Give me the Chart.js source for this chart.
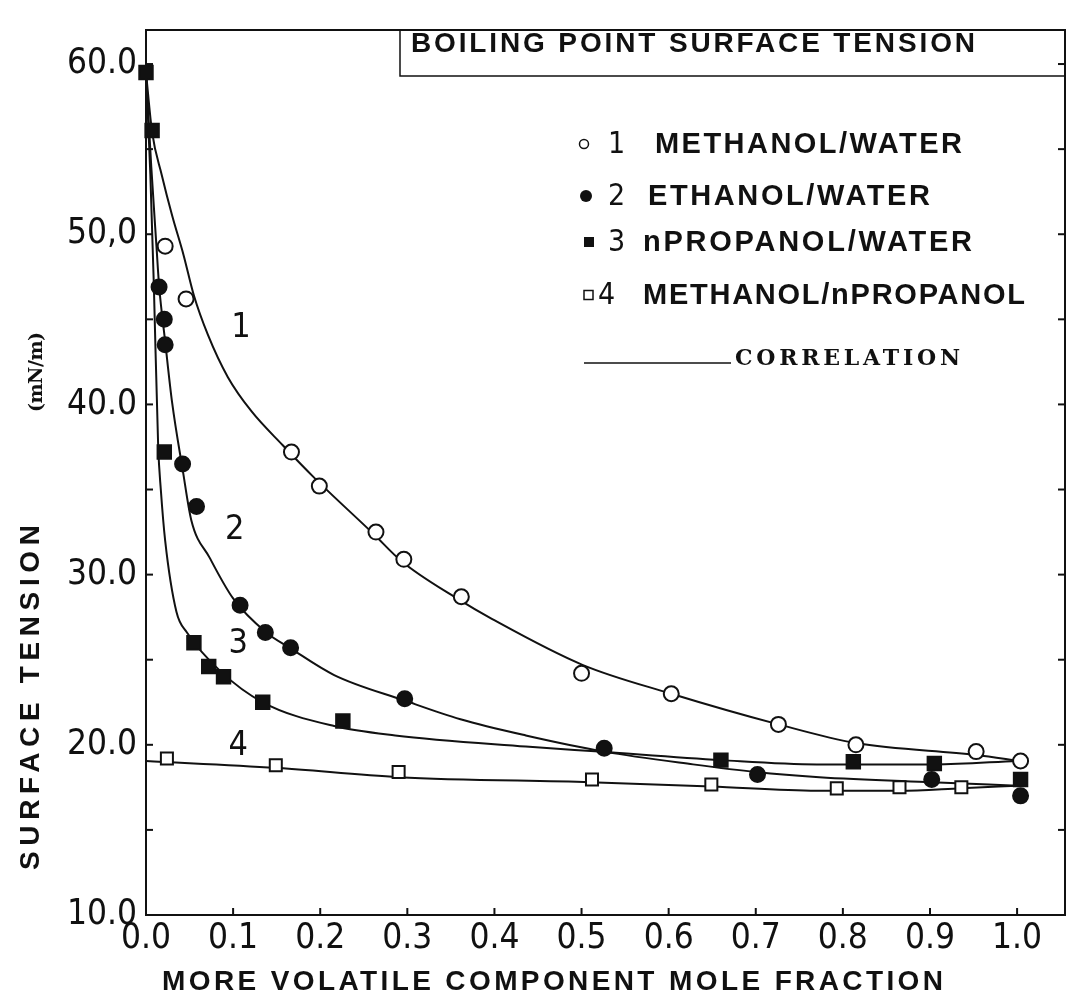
<!DOCTYPE html>
<html>
<head>
<meta charset="utf-8">
<title>Boiling point surface tension</title>
<script src="https://cdn.jsdelivr.net/npm/chart.js@4.4.1/dist/chart.umd.min.js"></script>
<style>
    html, body { margin: 0; padding: 0; background: #fff; }
    #wrap { width: 1081px; height: 1001px; }
</style>
</head>
<body>
<div id="wrap"><canvas id="surfaceChart" width="1081" height="1001"></canvas></div>
<script>
//测量点 x = mole fraction, y = mN/m
const methanolWaterX = [0.022, 0.046, 0.167, 0.199, 0.264, 0.296, 0.362, 0.500, 0.603, 0.726, 0.815, 0.953, 1.004];
const methanolWaterY = [49.3, 46.2, 37.2, 35.2, 32.5, 30.9, 28.7, 24.2, 23.0, 21.2, 20.0, 19.6, 19.05];

const ethanolWaterX = [0.015, 0.021, 0.022, 0.042, 0.058, 0.108, 0.137, 0.166, 0.297, 0.526, 0.702, 0.902, 1.004];
const ethanolWaterY = [46.9, 45.0, 43.5, 36.5, 34.0, 28.2, 26.6, 25.7, 22.7, 19.8, 18.25, 17.96, 17.0];

const propanolWaterX = [0.0, 0.007, 0.021, 0.055, 0.072, 0.089, 0.134, 0.226, 0.660, 0.812, 0.905, 1.004];
const propanolWaterY = [59.5, 56.1, 37.2, 26.0, 24.6, 24.0, 22.5, 21.4, 19.1, 19.0, 18.9, 17.96];

const methanolPropanolX = [0.024, 0.149, 0.290, 0.512, 0.649, 0.793, 0.865, 0.936];
const methanolPropanolY = [19.2, 18.8, 18.4, 17.96, 17.67, 17.44, 17.5, 17.5];

//关联曲线
const corr1X = [0, 0.007, 0.018, 0.030, 0.043, 0.055, 0.071, 0.094, 0.121, 0.157, 0.193, 0.261, 0.293, 0.357, 0.397, 0.501, 0.603, 0.726, 0.815, 0.953, 1.004];
const corr1Y = [59.5, 56.0, 53.5, 51.1, 48.8, 46.4, 44.1, 41.6, 39.6, 37.6, 35.7, 32.4, 30.8, 28.6, 27.4, 24.7, 23.0, 21.2, 20.1, 19.4, 19.05];

const corr2X = [0, 0.006, 0.012, 0.015, 0.022, 0.030, 0.042, 0.052, 0.073, 0.100, 0.138, 0.165, 0.216, 0.297, 0.361, 0.436, 0.526, 0.628, 0.700, 0.773, 0.902, 1.0];
const corr2Y = [59.5, 54.0, 49.3, 47.0, 43.7, 40.1, 36.2, 33.2, 31.0, 28.6, 26.6, 25.7, 24.1, 22.6, 21.5, 20.55, 19.6, 18.85, 18.4, 18.1, 17.8, 17.6];

const corr3X = [0, 0.005, 0.009, 0.014, 0.017, 0.022, 0.035, 0.047, 0.086, 0.134, 0.216, 0.286, 0.436, 0.520, 0.660, 0.770, 0.812, 0.905, 1.0];
const corr3Y = [59.5, 53.5, 47.0, 37.5, 35.0, 32.0, 27.8, 26.6, 24.3, 22.5, 21.1, 20.55, 19.9, 19.6, 19.1, 18.85, 18.85, 18.85, 19.05];

const corr4X = [0, 0.149, 0.290, 0.510, 0.649, 0.770, 0.865, 0.936, 1.0];
const corr4Y = [19.05, 18.65, 18.1, 17.8, 17.55, 17.3, 17.3, 17.45, 17.6];

//刻度
const xTickValues = [0, 0.1, 0.2, 0.3, 0.4, 0.5, 0.6, 0.7, 0.8, 0.9, 1.0];
const xTickLabels = ['0.0', '0.1', '0.2', '0.3', '0.4', '0.5', '0.6', '0.7', '0.8', '0.9', '1.0'];
const yTickValues = [10, 15, 20, 25, 30, 35, 40, 45, 50, 55, 60];
const yLabelValues = [10, 20, 30, 40, 50, 60];
const yTickLabels = ['10.0', '20.0', '30.0', '40.0', '50,0', '60.0'];

//文字
const chartTitle = 'BOILING POINT SURFACE TENSION';
const legendNumbers = ['1', '2', '3', '4'];
const legendNames = ['METHANOL/WATER', 'ETHANOL/WATER', 'nPROPANOL/WATER', 'METHANOL/nPROPANOL'];
const correlationText = 'CORRELATION';
const curveNumbers = ['1', '2', '3', '4'];
const curveLabelX = [0.109, 0.102, 0.106, 0.106];
const curveLabelY = [44.5, 32.6, 25.9, 19.9];
const xAxisTitle = 'MORE VOLATILE COMPONENT MOLE FRACTION';
const yAxisTitle = 'SURFACE TENSION';
const yAxisUnit = '(mN/m)';

const thinFont = "'Liberation Sans Narrow', 'DejaVu Sans Condensed', 'DejaVu Sans', sans-serif";
const boldFont = "'Liberation Sans', Arial, sans-serif";
const serifFont = "'DejaVu Serif', 'Liberation Serif', serif";

const toXY = (xs, ys) => xs.map((x, i) => ({ x: x, y: ys[i] }));

//把文字拉到指定宽度
const fitText = (ctx, text, x, y, width) => {
    ctx.letterSpacing = '0px';
    const w = ctx.measureText(text).width;
    const gap = text.length > 1 ? (width - w) / (text.length - 1) : 0;
    ctx.letterSpacing = gap + 'px';
    ctx.fillText(text, x, y);
    ctx.letterSpacing = '0px';
};

const line = (ctx, x1, y1, x2, y2) => {
    ctx.beginPath();
    ctx.moveTo(x1, y1);
    ctx.lineTo(x2, y2);
    ctx.stroke();
};

const decorPlugin = {
    id: 'decor',
    afterDraw: (chart) => {
        const ctx = chart.ctx;
        const area = chart.chartArea;
        const xs = chart.scales.x;
        const ys = chart.scales.y;
        ctx.save();
        ctx.strokeStyle = '#111';
        ctx.fillStyle = '#111';

        //边框
        ctx.lineWidth = 2;
        ctx.strokeRect(area.left, area.top, area.right - area.left, area.bottom - area.top);

        //内侧刻度
        xs.ticks.forEach(t => {
            const px = xs.getPixelForValue(t.value);
            line(ctx, px, area.bottom, px, area.bottom - 7);
        });
        ys.ticks.forEach(t => {
            const py = ys.getPixelForValue(t.value);
            line(ctx, area.left, py, area.left + 7, py);
            line(ctx, area.right, py, area.right - 7, py);
        });

        //标题框
        ctx.lineWidth = 1.5;
        ctx.beginPath();
        ctx.moveTo(400, area.top);
        ctx.lineTo(400, 76);
        ctx.lineTo(area.right, 76);
        ctx.stroke();
        ctx.textBaseline = 'middle';
        ctx.textAlign = 'left';
        ctx.font = "bold 28px " + boldFont;
        fitText(ctx, chartTitle, 411, 44, 564);

        //图例
        const rowY = [144, 196, 242, 295];
        const numX = [608, 608, 608, 598];
        const nameX = [655, 648, 643, 643];
        const nameW = [307, 282, 329, 382];
        rowY.forEach((y, i) => {
            ctx.lineWidth = 1.5;
            if (i === 0) {
                ctx.beginPath(); ctx.arc(584, y, 4.5, 0, Math.PI * 2); ctx.stroke();
            } else if (i === 1) {
                ctx.beginPath(); ctx.arc(586, y, 6, 0, Math.PI * 2); ctx.fill();
            } else if (i === 2) {
                ctx.fillRect(584, y - 5, 10, 10);
            } else {
                ctx.strokeRect(584, y - 4.5, 9, 9);
            }
            ctx.font = "30px " + thinFont;
            ctx.fillText(legendNumbers[i], numX[i], y + 1);
            ctx.font = "bold 29px " + boldFont;
            fitText(ctx, legendNames[i], nameX[i], y + 1, nameW[i]);
        });
        ctx.lineWidth = 1.5;
        line(ctx, 584, 363, 731, 363);
        ctx.textBaseline = 'alphabetic';
        ctx.font = "bold 22px " + serifFont;
        fitText(ctx, correlationText, 735, 365, 225);

        //曲线编号
        ctx.textBaseline = 'middle';
        ctx.textAlign = 'center';
        ctx.font = "34px " + thinFont;
        curveNumbers.forEach((n, i) => {
            ctx.fillText(n, xs.getPixelForValue(curveLabelX[i]), ys.getPixelForValue(curveLabelY[i]));
        });

        //坐标轴标题
        ctx.textAlign = 'left';
        ctx.font = "bold 28px " + boldFont;
        fitText(ctx, xAxisTitle, 162, 982, 781);

        ctx.save();
        ctx.translate(31, 870);
        ctx.rotate(-Math.PI / 2);
        ctx.font = "bold 28px " + boldFont;
        fitText(ctx, yAxisTitle, 0, 0, 345);
        ctx.restore();
        ctx.save();
        ctx.translate(37, 412);
        ctx.rotate(-Math.PI / 2);
        ctx.font = "bold 19px " + serifFont;
        fitText(ctx, yAxisUnit, 0, 0, 80);
        ctx.restore();

        ctx.restore();
    }
};

const curveSet = (xs, ys) => ({
    type: 'line',
    data: toXY(xs, ys),
    borderColor: '#111',
    borderWidth: 2,
    pointRadius: 0,
    fill: false,
    cubicInterpolationMode: 'monotone',
    clip: false,
    order: 5
});

const pointSet = (xs, ys, style, radius, filled) => ({
    type: 'scatter',
    data: toXY(xs, ys),
    pointStyle: style,
    pointRadius: radius,
    pointBorderWidth: 2,
    pointBorderColor: '#111',
    pointBackgroundColor: filled ? '#111' : '#fff',
    showLine: false,
    clip: false,
    order: 1
});

const ctx = document.getElementById('surfaceChart').getContext('2d');
const surfaceChart = new Chart(ctx, {
    type: 'line',
    data: {
        datasets: [
            curveSet(corr1X, corr1Y),
            curveSet(corr2X, corr2Y),
            curveSet(corr3X, corr3Y),
            curveSet(corr4X, corr4Y),
            pointSet(methanolPropanolX, methanolPropanolY, 'rect', 8.5, false),
            pointSet(propanolWaterX, propanolWaterY, 'rect', 9.5, true),
            pointSet(ethanolWaterX, ethanolWaterY, 'circle', 7.5, true),
            pointSet(methanolWaterX, methanolWaterY, 'circle', 7.5, false)
        ]
    },
    options: {
        responsive: false,
        animation: false,
        devicePixelRatio: 1,
        layout: { padding: { top: 13, right: 16, left: 0, bottom: 0 } },
        plugins: {
            legend: { display: false },
            tooltip: { enabled: false }
        },
        scales: {
            x: {
                type: 'linear',
                min: 0,
                max: 1.055,
                grid: { display: false, drawTicks: false },
                border: { display: false },
                afterBuildTicks: (scale) => { scale.ticks = xTickValues.map(v => ({ value: v })); },
                afterFit: (scale) => { scale.height = 86; },
                ticks: {
                    padding: 3,
                    color: '#111',
                    maxRotation: 0,
                    autoSkip: false,
                    font: { family: thinFont, size: 35 },
                    callback: (value) => {
                        const i = xTickValues.findIndex(v => Math.abs(v - value) < 1e-6);
                        return i >= 0 ? xTickLabels[i] : '';
                    }
                }
            },
            y: {
                type: 'linear',
                min: 10,
                max: 62,
                grid: { display: false, drawTicks: false },
                border: { display: false },
                afterBuildTicks: (scale) => { scale.ticks = yTickValues.map(v => ({ value: v })); },
                afterFit: (scale) => { scale.width = 146; },
                ticks: {
                    padding: 9,
                    color: '#111',
                    autoSkip: false,
                    font: { family: thinFont, size: 35 },
                    callback: (value) => {
                        const i = yLabelValues.indexOf(value);
                        return i >= 0 ? yTickLabels[i] : '';
                    }
                }
            }
        }
    },
    plugins: [decorPlugin]
});
</script>
</body>
</html>
